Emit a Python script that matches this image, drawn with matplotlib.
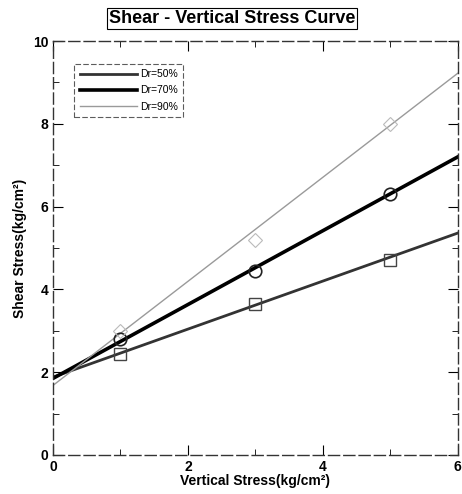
import matplotlib

matplotlib.use("Agg")
import matplotlib.pyplot as plt
from matplotlib.ticker import MultipleLocator

plt.rcParams["font.family"] = ["Liberation Sans", "DejaVu Sans"]

# measured points
vertical_stress = [1, 3, 5]
shear_dr50 = [2.45, 3.65, 4.72]
shear_dr70 = [2.8, 4.45, 6.3]
shear_dr90 = [3.0, 5.2, 8.0]

# fitted lines, read at both ends of the axis
line_x = [0, 6]
line_dr50 = [1.88, 5.36]
line_dr70 = [1.85, 7.2]
line_dr90 = [1.68, 9.22]

labels = ["Dr=50%", "Dr=70%", "Dr=90%"]

fig = plt.figure(figsize=(4.62, 4.94), dpi=100)
ax = fig.add_axes([0.1147, 0.079, 0.876, 0.838])

ax.plot(line_x, line_dr50, color="#333333", linewidth=2.0, label=labels[0])
ax.plot(line_x, line_dr70, color="black", linewidth=2.6, label=labels[1])
ax.plot(line_x, line_dr90, color="#9a9a9a", linewidth=1.0, label=labels[2])

ax.plot(vertical_stress, shear_dr50, linestyle="none", marker="s", markersize=9,
        markerfacecolor="none", markeredgecolor="#444444", markeredgewidth=1.0)
ax.plot(vertical_stress, shear_dr70, linestyle="none", marker="o", markersize=9,
        markerfacecolor="none", markeredgecolor="#222222", markeredgewidth=1.2)
ax.plot(vertical_stress, shear_dr90, linestyle="none", marker="D", markersize=7,
        markerfacecolor="none", markeredgecolor="#bbbbbb", markeredgewidth=0.8)

ax.set_xlim(0, 6)
ax.set_ylim(0, 10)
ax.xaxis.set_major_locator(MultipleLocator(2))
ax.xaxis.set_minor_locator(MultipleLocator(1))
ax.yaxis.set_major_locator(MultipleLocator(2))
ax.yaxis.set_minor_locator(MultipleLocator(1))
ax.tick_params(which="both", direction="in", top=True, right=True, labelsize=10)
ax.tick_params(which="major", length=7)
ax.tick_params(which="minor", length=4)
for lab in ax.get_xticklabels() + ax.get_yticklabels():
    lab.set_fontweight("bold")

for spine in ax.spines.values():
    spine.set_linestyle((0, (8, 3)))
    spine.set_linewidth(1.0)
    spine.set_color("#333333")

ax.set_xlabel("Vertical Stress(kg/cm²)", fontsize=10, fontweight="bold", labelpad=0)
ax.set_ylabel("Shear Stress(kg/cm²)", fontsize=10, fontweight="bold", labelpad=4)
fig.text(0.502, 0.962, "Shear - Vertical Stress Curve", fontsize=13, fontweight="bold",
         ha="center", va="center",
         bbox=dict(facecolor="white", edgecolor="black", linewidth=0.8, pad=1.5))

leg = ax.legend(loc="upper left", bbox_to_anchor=(0.04, 0.957), fontsize=7.5,
                frameon=True, fancybox=False, handlelength=5.5, borderpad=0.5,
                labelspacing=0.6, handletextpad=0.3)
leg.get_frame().set_edgecolor("#333333")
leg.get_frame().set_linestyle((0, (5, 2)))
leg.get_frame().set_linewidth(0.8)

fig.savefig("out.png", dpi=100)
plt.close(fig)
